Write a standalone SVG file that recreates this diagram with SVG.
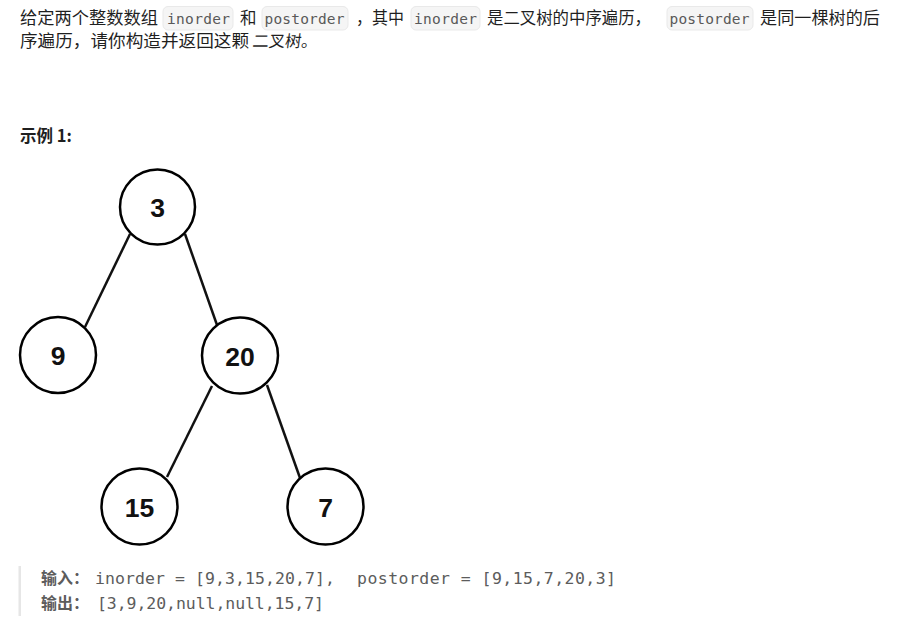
<svg xmlns="http://www.w3.org/2000/svg" width="903" height="627" viewBox="0 0 903 627">
<style>
.t{font-family:"Noto Sans CJK SC","Noto Sans",sans-serif;font-size:16.5px;fill:#1f1f1f}
.b{font-weight:bold}
.code{font-family:"DejaVu Sans Mono","Liberation Mono",monospace;font-size:14.5px;fill:#595959}
.cbox{fill:#f5f5f5;stroke:#e9e9e9;stroke-width:1}
.node circle{fill:#ffffff;stroke:#000000;stroke-width:2.5}
.node text{font-family:"Liberation Sans",Arial,sans-serif;font-weight:bold;font-size:26.5px;fill:#111;text-anchor:middle}
.edge{stroke:#111;stroke-width:2.5;fill:none}
.ex{font-family:"DejaVu Sans Mono","Liberation Mono",monospace;font-size:16.5px;fill:#5c5c5c}
.exl{font-family:"Noto Sans CJK SC","Noto Sans",sans-serif;font-size:16px;font-weight:bold;fill:#5c5c5c}
</style>
<rect width="903" height="627" fill="#ffffff"/>
<g id="para">
<text class="t" x="20" y="24" textLength="138" lengthAdjust="spacingAndGlyphs">给定两个整数数组</text>
<rect class="cbox" x="163" y="6.5" width="70" height="23.5" rx="5"/>
<text class="code" x="167" y="23.5" textLength="63">inorder</text>
<text class="t" x="240" y="24">和</text>
<rect class="cbox" x="262" y="6.5" width="86" height="23.5" rx="5"/>
<text class="code" x="264.5" y="23.5" textLength="80">postorder</text>
<text class="t" x="356" y="24" textLength="48" lengthAdjust="spacingAndGlyphs">，其中</text>
<rect class="cbox" x="411" y="6.5" width="69" height="23.5" rx="5"/>
<text class="code" x="414" y="23.5" textLength="63">inorder</text>
<text class="t" x="487" y="24" textLength="164" lengthAdjust="spacingAndGlyphs">是二叉树的中序遍历，</text>
<rect class="cbox" x="667" y="6.5" width="86" height="23.5" rx="5"/>
<text class="code" x="669.5" y="23.5" textLength="80">postorder</text>
<text class="t" x="760" y="24" textLength="120" lengthAdjust="spacingAndGlyphs">是同一棵树的后</text>
<text class="t" x="20" y="47" textLength="229" lengthAdjust="spacingAndGlyphs">序遍历，请你构造并返回这颗</text>
<g transform="translate(252 47) skewX(-7)"><text class="t" x="0" y="0" textLength="65" lengthAdjust="spacingAndGlyphs">二叉树。</text></g>
<text class="t b" x="20" y="142">示例 1:</text>
</g>
<g id="connectors">
<line class="edge" x1="130" y1="234" x2="85" y2="327"/>
<line class="edge" x1="185" y1="234" x2="217" y2="325"/>
<line class="edge" x1="212" y1="386" x2="167" y2="477"/>
<line class="edge" x1="267" y1="385" x2="300" y2="478"/>
</g>
<g id="node-3" class="node"><circle cx="157.5" cy="207" r="37.5"/><text x="157.5" y="217">3</text></g>
<g id="node-9" class="node"><circle cx="58" cy="355" r="38"/><text x="58" y="365">9</text></g>
<g id="node-20" class="node"><circle cx="240" cy="355.5" r="38"/><text x="240" y="365.5">20</text></g>
<g id="node-15" class="node"><circle cx="139.5" cy="506.5" r="38"/><text x="139.5" y="516.5">15</text></g>
<g id="node-7" class="node"><circle cx="325.5" cy="506.5" r="38"/><text x="325.5" y="516.5">7</text></g>
<g id="example">
<rect x="18.5" y="566" width="2.5" height="50" fill="#e6e6e6"/>
<text class="exl" x="41" y="583.5">输入：</text>
<text class="ex" x="95" y="583.5" textLength="240">inorder = [9,3,15,20,7],</text>
<text class="ex" x="357" y="583.5" textLength="259">postorder = [9,15,7,20,3]</text>
<text class="exl" x="41" y="608.5">输出：</text>
<text class="ex" x="97" y="608.5" textLength="227">[3,9,20,null,null,15,7]</text>
</g>
</svg>
